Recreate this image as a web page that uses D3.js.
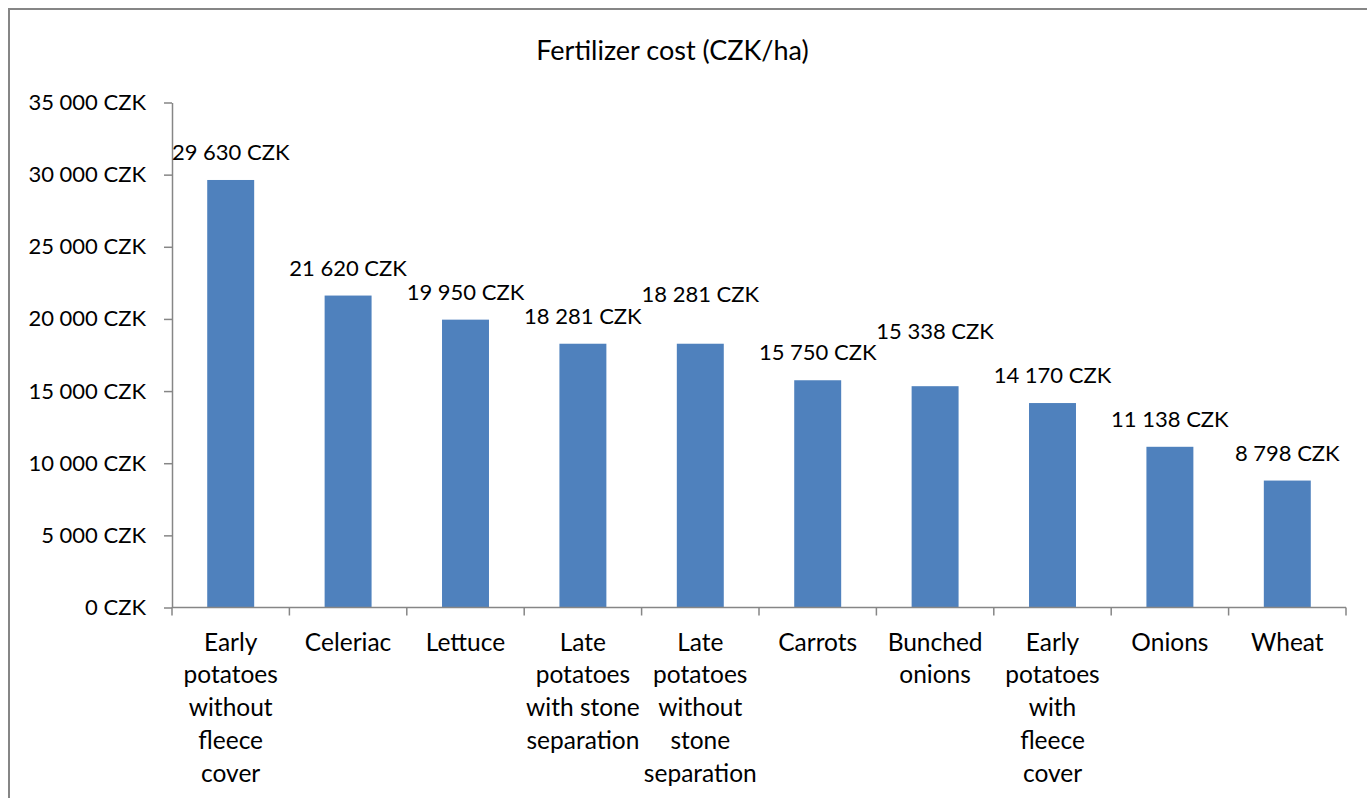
<!DOCTYPE html>
<html>
<head>
<meta charset="utf-8">
<script src="https://cdn.jsdelivr.net/npm/d3@7"></script>
<style>
body { margin: 0; background: #fff; }
text { font-family: Lato, "Open Sans", sans-serif; fill: #000; }
</style>
</head>
<body>
<div id="chart"></div>
<script>
// data
var categories = ["Early|potatoes|without|fleece|cover", "Celeriac", "Lettuce",
                  "Late|potatoes|with stone|separation", "Late|potatoes|without|stone|separation",
                  "Carrots", "Bunched|onions", "Early|potatoes|with|fleece|cover", "Onions", "Wheat"];
var costs = [29630, 21620, 19950, 18281, 18281, 15750, 15338, 14170, 11138, 8798];
var yTicks = [0, 5000, 10000, 15000, 20000, 25000, 30000, 35000];
var title = "Fertilizer cost (CZK/ha)";

var width = 1367, height = 798;
var plotLeft = 172, plotRight = 1346, plotTop = 102.5, plotBottom = 607.5;
var axisColor = "#868686", barColor = "#4F81BD";
var numSize = 22, catSize = 24.5;

var fmt = function(v){ return d3.format(",")(v).replace(/,/g, " ") + " CZK"; };

var svg = d3.select("#chart")
            .append("svg")
            .attr("width", width)
            .attr("height", height);

// chart frame
svg.append("rect")
        .attr("x", 9)
        .attr("y", 9)
        .attr("width", 1400)
        .attr("height", 900)
        .attr("fill", "none")
        .attr("stroke", axisColor)
        .attr("stroke-width", 2);

svg.append("text")
        .attr("x", 672.5)
        .attr("y", 60)
        .attr("text-anchor", "middle")
        .attr("font-size", "27px")
        .text(title);

var x = d3.scaleBand()
          .domain(d3.range(categories.length))
          .range([plotLeft, plotRight])
          .paddingInner(0.6)
          .paddingOuter(0.3);

var y = d3.scaleLinear()
          .domain([0, 35000])
          .range([plotBottom, plotTop]);

// y axis
var yAxis = svg.append("g")
        .attr("transform", "translate(" + plotLeft + ",0)")
        .call(d3.axisLeft(y).tickValues(yTicks).tickSize(8).tickSizeOuter(0).tickPadding(18).tickFormat(fmt));
yAxis.selectAll("path, line").attr("stroke", axisColor).attr("stroke-width", 1.5);
yAxis.selectAll("text").attr("font-size", numSize + "px").attr("font-family", null).attr("fill", "#000");

// bars
svg.selectAll("rect.bar")
        .data(costs)
        .enter()
        .append("rect")
        .attr("class", "bar")
        .attr("x", function(d, i){ return x(i); })
        .attr("y", function(d){ return y(d); })
        .attr("width", x.bandwidth())
        .attr("height", function(d){ return plotBottom - y(d); })
        .attr("fill", barColor);

// x axis line and ticks between categories
svg.append("line")
        .attr("x1", plotLeft).attr("x2", plotRight)
        .attr("y1", plotBottom).attr("y2", plotBottom)
        .attr("stroke", axisColor).attr("stroke-width", 1.5);

svg.selectAll("line.xtick")
        .data(d3.range(categories.length + 1))
        .enter()
        .append("line")
        .attr("class", "xtick")
        .attr("x1", function(i){ return plotLeft + i * x.step(); })
        .attr("x2", function(i){ return plotLeft + i * x.step(); })
        .attr("y1", plotBottom)
        .attr("y2", plotBottom + 8)
        .attr("stroke", axisColor)
        .attr("stroke-width", 1.5);

// category labels
var catText = svg.selectAll("text.cat")
        .data(categories)
        .enter()
        .append("text")
        .attr("class", "cat")
        .attr("text-anchor", "middle")
        .attr("font-size", catSize + "px");
catText.each(function(d, i){
    var lines = d.split("|");
    var t = d3.select(this);
    for (var k = 0; k < lines.length; k++) {
        t.append("tspan")
            .attr("x", x(i) + x.bandwidth() / 2)
            .attr("y", plotBottom + 43 + k * 32.8)
            .text(lines[k]);
    }
});

// value labels, lifted when they collide with the previous one
var labels = svg.selectAll("text.val")
        .data(costs)
        .enter()
        .append("text")
        .attr("class", "val")
        .attr("text-anchor", "middle")
        .attr("font-size", numSize + "px")
        .attr("x", function(d, i){ return x(i) + x.bandwidth() / 2; })
        .attr("y", function(d){ return y(d) - 20; })
        .text(fmt);

var prev = null;
labels.each(function(){
    var b = this.getBBox();
    var base = +d3.select(this).attr("y");
    var box = {left: b.x, right: b.x + b.width, top: base - 0.75 * numSize, bottom: base};
    if (prev && box.left < prev.right + 2 && box.top < prev.bottom && box.bottom > prev.top) {
        base = prev.top - 5;
        d3.select(this).attr("y", base);
        box.top = base - 0.75 * numSize;
        box.bottom = base;
    }
    prev = box;
});
</script>
</body>
</html>
